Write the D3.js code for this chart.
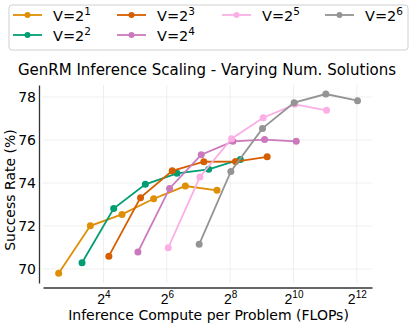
<!DOCTYPE html>
<html><head><meta charset="utf-8">
<script src="https://cdn.jsdelivr.net/npm/d3@7"></script>
<style>body{margin:0;background:#fff}svg{display:block;font-family:"DejaVu Sans",sans-serif}</style>
</head><body><svg id="c" width="411" height="326"></svg>
<script>
const seriesNames = ["1","2","3","4","5","6"];
const seriesColors = ["#de8f05","#029e73","#d55e00","#cc78bc","#fbafe4","#949494"];
const compute1 = [6,12,24,48,96,192];
const success1 = [69.8,72.01,72.54,73.27,73.86,73.66];
const compute2 = [10,20,40,80,160,320];
const success2 = [70.29,72.81,73.94,74.45,74.64,75.1];
const compute3 = [18,36,72,144,288,576];
const success3 = [70.6,73.32,74.57,74.99,75.0,75.22];
const compute4 = [34,68,136,272,544,1088];
const success4 = [70.79,73.75,75.32,75.94,76.02,75.94];
const compute5 = [66,132,264,528,1056,2112];
const success5 = [70.99,74.28,76.06,77.04,77.66,77.38];
const compute6 = [130,260,520,1040,2080,4160];
const success6 = [71.15,74.54,76.54,77.74,78.14,77.83];
const xTickExps = [4,6,8,10,12];
const yTicks = [70,72,74,76,78];

const computes=[compute1,compute2,compute3,compute4,compute5,compute6];
const successes=[success1,success2,success3,success4,success5,success6];

const svg=d3.select("#c");
const L=43,R=372,T=85,B=283;
const x=d3.scaleLog().base(2).domain([Math.pow(2,2.09),Math.pow(2,12.48)]).range([L,R]);
const y=d3.scaleLinear().domain([69.35,78.56]).range([B,T]);

// grid
const g=svg.append("g");
g.selectAll(".gx").data(xTickExps).enter().append("line")
 .attr("x1",d=>x(Math.pow(2,d))).attr("x2",d=>x(Math.pow(2,d))).attr("y1",T).attr("y2",B)
 .attr("stroke","#ebebeb").attr("stroke-width",0.8);
g.selectAll(".gy").data(yTicks).enter().append("line")
 .attr("y1",d=>y(d)).attr("y2",d=>y(d)).attr("x1",L).attr("x2",R)
 .attr("stroke","#ebebeb").attr("stroke-width",0.8);

// axes
const xAxis=d3.axisBottom(x).tickValues(xTickExps.map(e=>Math.pow(2,e))).tickSize(0).tickFormat("");
const xa=svg.append("g").attr("transform",`translate(0,287.5)`).call(xAxis);
xa.select(".domain").attr("stroke","#333").attr("stroke-width",1.3);
xa.selectAll(".tick").each(function(d){
  const t=d3.select(this).append("text").attr("y",16).attr("fill","#000").attr("font-size",14).attr("text-anchor","middle");
  t.append("tspan").text("2");
  t.append("tspan").attr("dy",-5.5).attr("font-size",10).text(Math.round(Math.log2(d)));
});
const yAxis=d3.axisLeft(y).tickValues(yTicks).tickSize(0).tickPadding(3);
const ya=svg.append("g").attr("transform",`translate(39,0)`).call(yAxis);
ya.select(".domain").attr("stroke","#333").attr("stroke-width",1.3);
ya.selectAll("text").attr("font-size",14).attr("fill","#000").attr("font-family","DejaVu Sans");

// lines
const line=d3.line().x(d=>x(d[0])).y(d=>y(d[1]));
seriesNames.forEach((n,i)=>{
  const pts=computes[i].map((c,j)=>[c,successes[i][j]]);
  svg.append("path").datum(pts).attr("d",line).attr("fill","none").attr("stroke",seriesColors[i]).attr("stroke-width",1.8);
  svg.selectAll(null).data(pts).enter().append("circle").attr("cx",d=>x(d[0])).attr("cy",d=>y(d[1])).attr("r",3.5).attr("fill",seriesColors[i]);
});

// labels
svg.append("text").attr("x",(L+R)/2+1).attr("y",320).attr("text-anchor","middle").attr("font-size",14).text("Inference Compute per Problem (FLOPs)");
svg.append("text").attr("transform",`translate(15,${(T+B)/2+6}) rotate(-90)`).attr("text-anchor","middle").attr("font-size",14).text("Success Rate (%)");
svg.append("text").attr("x",207).attr("y",75).attr("text-anchor","middle").attr("font-size",15).text("GenRM Inference Scaling - Varying Num. Solutions");

// legend
svg.append("rect").attr("x",9).attr("y",5).attr("width",399).attr("height",45).attr("rx",3).attr("fill","#fff").attr("stroke","#d0d0d0").attr("stroke-width",1);
const colX=[13,117,222,325];
seriesNames.forEach((n,i)=>{
  const col=Math.floor(i/2), row=i%2;
  let cx, cy;
  if(i<4){cx=colX[col];cy=15+row*20;} else if(i===4){cx=colX[2];cy=15;} else {cx=colX[3];cy=15;}
  const lg=svg.append("g").attr("transform",`translate(${cx},${cy})`);
  lg.append("line").attr("x1",0).attr("x2",29).attr("stroke",seriesColors[i]).attr("stroke-width",1.8);
  lg.append("circle").attr("cx",14.5).attr("r",3).attr("fill",seriesColors[i]);
  const t=lg.append("text").attr("x",40).attr("y",5.5).attr("font-size",14.5);
  t.append("tspan").text("V=2");
  t.append("tspan").attr("dy",-6).attr("font-size",10.5).text(n);
});
</script></body></html>
